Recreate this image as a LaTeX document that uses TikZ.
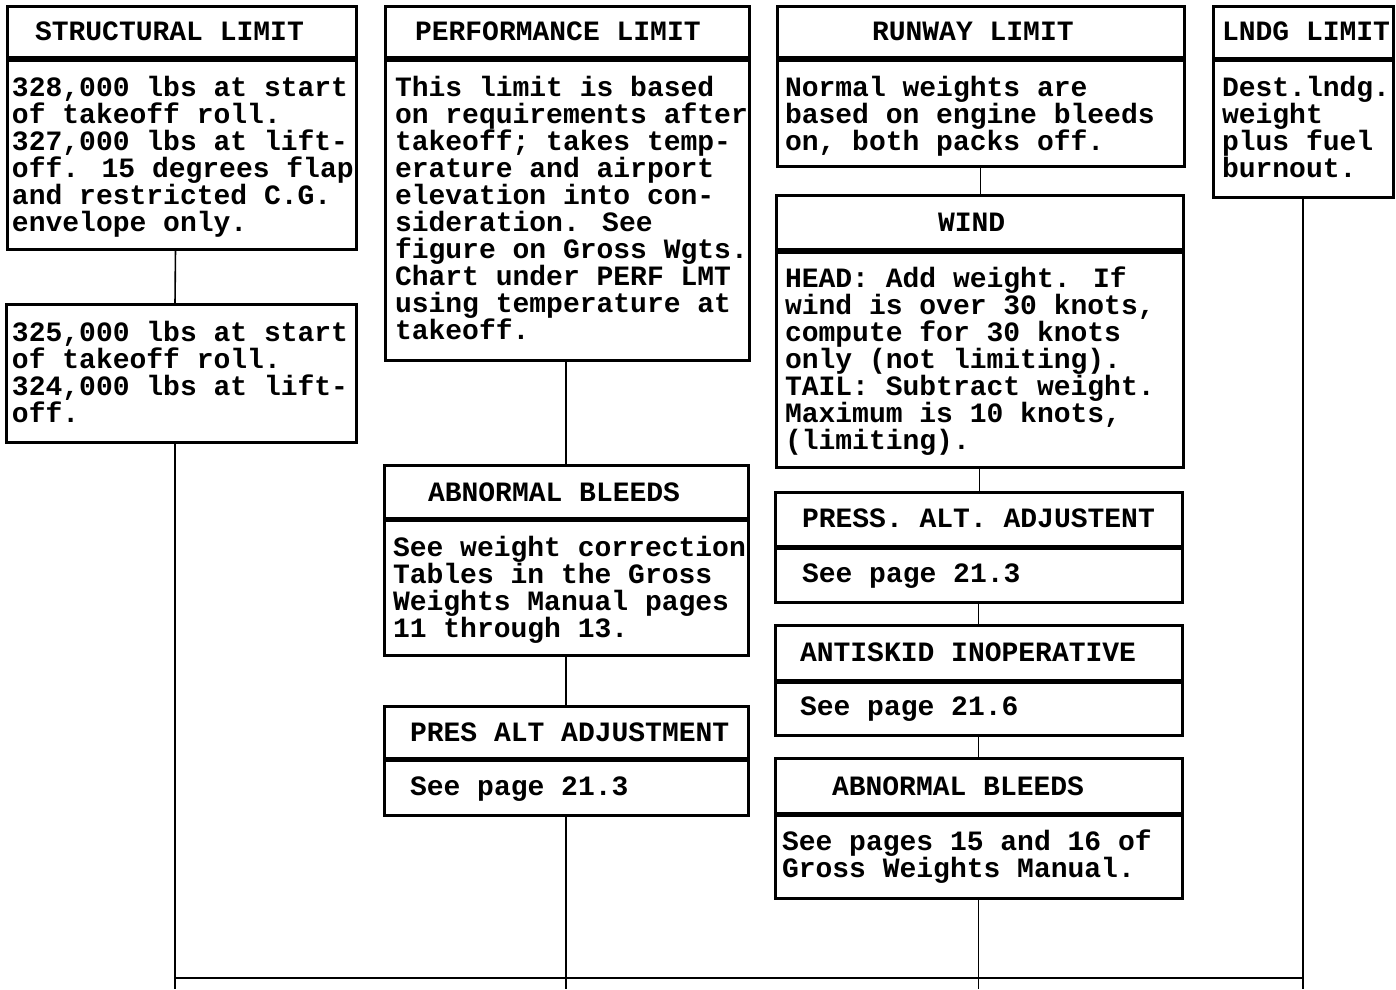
\documentclass[tikz,border=0pt]{standalone}
\usepackage{fontspec}
\newfontfamily\boxfont{Liberation Mono}
\begin{document}
\begin{tikzpicture}[x=1pt,y=-1pt,
  box/.style={draw, line width=3pt, inner sep=0pt, outer sep=0pt, anchor=north west},
  txt/.style={anchor=north west, inner sep=0pt, outer sep=0pt, align=left,
    font=\boxfont\bfseries\fontsize{28}{27}\selectfont,
    execute at begin node={\rule{0pt}{24pt}}},
  link/.style={line width=1.6pt},
  botline/.style={line width=2.4pt}]
\useasboundingbox[fill=white] (0,0) rectangle (1396,989);
\newcommand\mkbox[5]{\node[box, minimum width={#3-#1}, minimum height={#4-#2}] (#5) at (#1,#2) {};}
% single-line text: baseline y minus 24; multi-line text: baseline y minus 19
\newcommand\mktxt[4]{\node[txt] (#1) at (#2,#3-24) {#4};}
\newcommand\mktxtm[4]{\node[txt] (#1) at (#2,#3-19) {#4};}
% column 1
\mkbox{7}{6}{356}{57}{sh}
\mkbox{7}{60}{356}{249}{sb}
\mkbox{6}{304}{356}{442}{s2}
% column 2
\mkbox{385}{6}{749}{57}{ph}
\mkbox{385}{60}{749}{360}{pb}
\mkbox{384}{465}{748}{518}{abh}
\mkbox{384}{520}{748}{655}{abb}
\mkbox{384}{706}{748}{758}{pah}
\mkbox{384}{760}{748}{815}{pab}
% column 3
\mkbox{777}{6}{1184}{57}{rh}
\mkbox{777}{60}{1184}{166}{rb}
\mkbox{776}{195}{1183}{249}{wh}
\mkbox{776}{252}{1183}{467}{wb}
\mkbox{775}{492}{1182}{546}{prh}
\mkbox{775}{548}{1182}{602}{prb}
\mkbox{775}{625}{1182}{680}{ash}
\mkbox{775}{682}{1182}{735}{asb}
\mkbox{775}{758}{1182}{813}{a2h}
\mkbox{775}{815}{1182}{898}{a2b}
% column 4
\mkbox{1213}{6}{1393}{58}{lh}
\mkbox{1213}{60}{1393}{197}{lb}
% texts
\mktxt{tsh}{35}{40}{STRUCTURAL LIMIT}
\mktxtm{tsb}{12}{95}{328,000 lbs at start\\of takeoff roll.\\327,000 lbs at lift-\\off. 15 degrees flap\\and restricted C.G.\\envelope only.}
\mktxtm{ts2}{12}{340}{325,000 lbs at start\\of takeoff roll.\\324,000 lbs at lift-\\off.}
\mktxt{tph}{415}{40}{PERFORMANCE LIMIT}
\mktxtm{tpb}{395}{95}{This limit is based\\on requirements after\\takeoff; takes temp-\\erature and airport\\elevation into con-\\sideration. See\\figure on Gross Wgts.\\Chart under PERF LMT\\using temperature at\\takeoff.}
\mktxt{tabh}{428}{501}{ABNORMAL BLEEDS}
\mktxtm{tabb}{393}{555}{See weight correction\\Tables in the Gross\\Weights Manual pages\\11 through 13.}
\mktxt{tpah}{410}{741}{PRES ALT ADJUSTMENT}
\mktxt{tpab}{410}{795}{See page 21.3}
\mktxt{trh}{872}{40}{RUNWAY LIMIT}
\mktxtm{trb}{785}{95}{Normal weights are\\based on engine bleeds\\on, both packs off.}
\mktxt{twh}{938}{231}{WIND}
\mktxtm{twb}{785}{286}{HEAD: Add weight. If\\wind is over 30 knots,\\compute for 30 knots\\only (not limiting).\\TAIL: Subtract weight.\\Maximum is 10 knots,\\(limiting).}
\mktxt{tprh}{802}{527}{PRESS. ALT. ADJUSTENT}
\mktxt{tprb}{802}{582}{See page 21.3}
\mktxt{tash}{800}{661}{ANTISKID INOPERATIVE}
\mktxt{tasb}{800}{715}{See page 21.6}
\mktxt{ta2h}{832}{795}{ABNORMAL BLEEDS}
\mktxtm{ta2b}{782}{849}{See pages 15 and 16 of\\Gross Weights Manual.}
\mktxt{tlh}{1222}{40}{LNDG LIMIT}
\mktxtm{tlb}{1222}{95}{Dest.lndg.\\weight\\plus fuel\\burnout.}
% connectors
\coordinate (e1) at (175,989);
\coordinate (e2) at (566,989);
\coordinate (e3) at (978.5,989);
\coordinate (e4) at (1303,989);
\coordinate (h1) at (175,978);
\coordinate (h4) at (1303,978);
\draw[link] ([xshift=-6pt]sb.south) -- ([xshift=-6pt]s2.north);
\draw[link] ([xshift=-6pt]s2.south) -- (e1);
\draw[link] (abh.north |- pb.south) -- (abh.north);
\draw[link] (abb.south) -- (pah.north);
\draw[link] (pab.south) -- (e2);
\draw[link] (rb.south) -- (rb.south |- wh.north);
\draw[link] (wb.south) -- (wb.south |- prh.north);
\draw[link] (prb.south) -- (ash.north);
\draw[link] (asb.south) -- (a2h.north);
\draw[link] (a2b.south) -- (e3);
\draw[link] (lb.south) -- (e4);
\draw[botline] (h1) -- (h4);
\end{tikzpicture}
\end{document}
